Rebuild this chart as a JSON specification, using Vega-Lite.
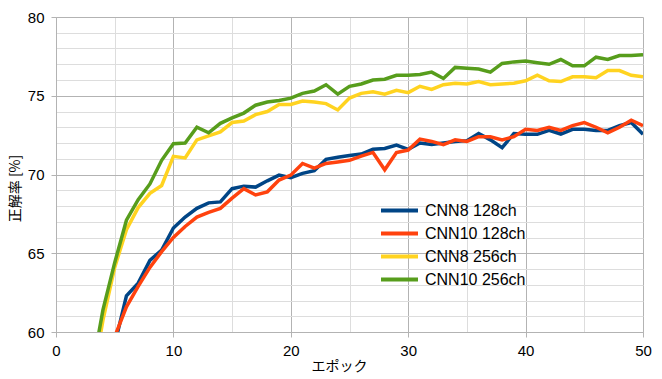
{
  "$schema": "https://vega.github.io/schema/vega-lite/v6.json",
  "width": 587,
  "height": 315,
  "autosize": "none",
  "padding": {"left": 56, "top": 17, "right": 19, "bottom": 47},
  "background": "white",
  "config": {"view": {"stroke": null}, "font": "Liberation Sans"},
  "data": {"values": [
    {"epoch": 3, "CNN8 128ch": null, "CNN10 128ch": null, "CNN8 256ch": 56.5, "CNN10 256ch": 57.3},
    {"epoch": 4, "CNN8 128ch": null, "CNN10 128ch": null, "CNN8 256ch": 60.75, "CNN10 256ch": 61.4},
    {"epoch": 5, "CNN8 128ch": 59.2, "CNN10 128ch": 59.7, "CNN8 256ch": 64.1, "CNN10 256ch": 64.4},
    {"epoch": 6, "CNN8 128ch": 62.3, "CNN10 128ch": 61.6, "CNN8 256ch": 66.5, "CNN10 256ch": 67.1},
    {"epoch": 7, "CNN8 128ch": 63.1, "CNN10 128ch": 62.9, "CNN8 256ch": 67.9, "CNN10 256ch": 68.4},
    {"epoch": 8, "CNN8 128ch": 64.55, "CNN10 128ch": 64.1, "CNN8 256ch": 68.8, "CNN10 256ch": 69.4},
    {"epoch": 9, "CNN8 128ch": 65.2, "CNN10 128ch": 65.1, "CNN8 256ch": 69.3, "CNN10 256ch": 70.9},
    {"epoch": 10, "CNN8 128ch": 66.6, "CNN10 128ch": 66.0, "CNN8 256ch": 71.15, "CNN10 256ch": 71.95},
    {"epoch": 11, "CNN8 128ch": 67.3, "CNN10 128ch": 66.7, "CNN8 256ch": 71.05, "CNN10 256ch": 72.0},
    {"epoch": 12, "CNN8 128ch": 67.85, "CNN10 128ch": 67.3, "CNN8 256ch": 72.2, "CNN10 256ch": 73.0},
    {"epoch": 13, "CNN8 128ch": 68.2, "CNN10 128ch": 67.6, "CNN8 256ch": 72.45, "CNN10 256ch": 72.65},
    {"epoch": 14, "CNN8 128ch": 68.26, "CNN10 128ch": 67.85, "CNN8 256ch": 72.7, "CNN10 256ch": 73.25},
    {"epoch": 15, "CNN8 128ch": 69.1, "CNN10 128ch": 68.5, "CNN8 256ch": 73.3, "CNN10 256ch": 73.6},
    {"epoch": 16, "CNN8 128ch": 69.26, "CNN10 128ch": 69.1, "CNN8 256ch": 73.4, "CNN10 256ch": 73.9},
    {"epoch": 17, "CNN8 128ch": 69.2, "CNN10 128ch": 68.7, "CNN8 256ch": 73.8, "CNN10 256ch": 74.4},
    {"epoch": 18, "CNN8 128ch": 69.6, "CNN10 128ch": 68.9, "CNN8 256ch": 74.0, "CNN10 256ch": 74.6},
    {"epoch": 19, "CNN8 128ch": 69.96, "CNN10 128ch": 69.65, "CNN8 256ch": 74.45, "CNN10 256ch": 74.7},
    {"epoch": 20, "CNN8 128ch": 69.8, "CNN10 128ch": 69.96, "CNN8 256ch": 74.45, "CNN10 256ch": 74.85},
    {"epoch": 21, "CNN8 128ch": 70.07, "CNN10 128ch": 70.7, "CNN8 256ch": 74.67, "CNN10 256ch": 75.15},
    {"epoch": 22, "CNN8 128ch": 70.24, "CNN10 128ch": 70.4, "CNN8 256ch": 74.6, "CNN10 256ch": 75.3},
    {"epoch": 23, "CNN8 128ch": 70.96, "CNN10 128ch": 70.7, "CNN8 256ch": 74.5, "CNN10 256ch": 75.7},
    {"epoch": 24, "CNN8 128ch": 71.1, "CNN10 128ch": 70.8, "CNN8 256ch": 74.1, "CNN10 256ch": 75.1},
    {"epoch": 25, "CNN8 128ch": 71.2, "CNN10 128ch": 70.9, "CNN8 256ch": 74.85, "CNN10 256ch": 75.6},
    {"epoch": 26, "CNN8 128ch": 71.3, "CNN10 128ch": 71.17, "CNN8 256ch": 75.15, "CNN10 256ch": 75.75},
    {"epoch": 27, "CNN8 128ch": 71.6, "CNN10 128ch": 71.4, "CNN8 256ch": 75.25, "CNN10 256ch": 76.0},
    {"epoch": 28, "CNN8 128ch": 71.65, "CNN10 128ch": 70.3, "CNN8 256ch": 75.1, "CNN10 256ch": 76.05},
    {"epoch": 29, "CNN8 128ch": 71.87, "CNN10 128ch": 71.4, "CNN8 256ch": 75.35, "CNN10 256ch": 76.3},
    {"epoch": 30, "CNN8 128ch": 71.6, "CNN10 128ch": 71.55, "CNN8 256ch": 75.2, "CNN10 256ch": 76.3},
    {"epoch": 31, "CNN8 128ch": 72.0, "CNN10 128ch": 72.25, "CNN8 256ch": 75.6, "CNN10 256ch": 76.35},
    {"epoch": 32, "CNN8 128ch": 71.9, "CNN10 128ch": 72.1, "CNN8 256ch": 75.4, "CNN10 256ch": 76.5},
    {"epoch": 33, "CNN8 128ch": 72.0, "CNN10 128ch": 71.9, "CNN8 256ch": 75.7, "CNN10 256ch": 76.1},
    {"epoch": 34, "CNN8 128ch": 72.1, "CNN10 128ch": 72.2, "CNN8 256ch": 75.8, "CNN10 256ch": 76.8},
    {"epoch": 35, "CNN8 128ch": 72.15, "CNN10 128ch": 72.1, "CNN8 256ch": 75.75, "CNN10 256ch": 76.75},
    {"epoch": 36, "CNN8 128ch": 72.6, "CNN10 128ch": 72.4, "CNN8 256ch": 75.9, "CNN10 256ch": 76.7},
    {"epoch": 37, "CNN8 128ch": 72.2, "CNN10 128ch": 72.4, "CNN8 256ch": 75.7, "CNN10 256ch": 76.5},
    {"epoch": 38, "CNN8 128ch": 71.7, "CNN10 128ch": 72.2, "CNN8 256ch": 75.75, "CNN10 256ch": 77.05},
    {"epoch": 39, "CNN8 128ch": 72.6, "CNN10 128ch": 72.4, "CNN8 256ch": 75.8, "CNN10 256ch": 77.15},
    {"epoch": 40, "CNN8 128ch": 72.55, "CNN10 128ch": 72.87, "CNN8 256ch": 75.95, "CNN10 256ch": 77.2},
    {"epoch": 41, "CNN8 128ch": 72.55, "CNN10 128ch": 72.8, "CNN8 256ch": 76.3, "CNN10 256ch": 77.1},
    {"epoch": 42, "CNN8 128ch": 72.8, "CNN10 128ch": 73.0, "CNN8 256ch": 75.95, "CNN10 256ch": 77.0},
    {"epoch": 43, "CNN8 128ch": 72.57, "CNN10 128ch": 72.8, "CNN8 256ch": 75.9, "CNN10 256ch": 77.3},
    {"epoch": 44, "CNN8 128ch": 72.87, "CNN10 128ch": 73.1, "CNN8 256ch": 76.2, "CNN10 256ch": 76.9},
    {"epoch": 45, "CNN8 128ch": 72.87, "CNN10 128ch": 73.3, "CNN8 256ch": 76.2, "CNN10 256ch": 76.9},
    {"epoch": 46, "CNN8 128ch": 72.8, "CNN10 128ch": 73.0, "CNN8 256ch": 76.15, "CNN10 256ch": 77.45},
    {"epoch": 47, "CNN8 128ch": 72.8, "CNN10 128ch": 72.65, "CNN8 256ch": 76.6, "CNN10 256ch": 77.3},
    {"epoch": 48, "CNN8 128ch": 73.1, "CNN10 128ch": 73.0, "CNN8 256ch": 76.6, "CNN10 256ch": 77.55},
    {"epoch": 49, "CNN8 128ch": 73.3, "CNN10 128ch": 73.45, "CNN8 256ch": 76.3, "CNN10 256ch": 77.55},
    {"epoch": 50, "CNN8 128ch": 72.55, "CNN10 128ch": 73.1, "CNN8 256ch": 76.2, "CNN10 256ch": 77.6}
  ]},
  "transform": [
    {"fold": ["CNN8 128ch", "CNN10 128ch", "CNN8 256ch", "CNN10 256ch"], "as": ["series", "acc"]}
  ],
  "mark": {"type": "line", "clip": true, "strokeWidth": 3.5},
  "encoding": {
    "x": {
      "field": "epoch", "type": "quantitative",
      "scale": {"domain": [0, 50], "nice": false, "zero": false},
      "axis": {
        "values": [0, 5, 10, 15, 20, 25, 30, 35, 40, 45, 50],
        "labelExpr": "datum.value % 10 === 0 ? datum.label : ''",
        "gridColor": {"condition": {"test": "datum.value % 10 === 0", "value": "#b3b3b3"}, "value": "#dddddd"},
        "tickColor": {"condition": {"test": "datum.value % 10 === 0", "value": "#b3b3b3"}, "value": "transparent"},
        "domainColor": "#b3b3b3",
        "tickSize": 5,
        "labelFontSize": 15,
        "labelColor": "black",
        "labelPadding": 6,
        "labelFlush": false,
        "title": "エポック",
        "titleFont": "Noto Sans CJK JP",
        "titleFontSize": 14,
        "titleFontWeight": "normal",
        "titleColor": "black",
        "titleX": 283,
        "titleY": 34,
        "titleAlign": "center",
        "titleBaseline": "middle"
      }
    },
    "y": {
      "field": "acc", "type": "quantitative",
      "scale": {"domain": [60, 80], "nice": false, "zero": false},
      "axis": {
        "values": [60, 61, 62, 63, 64, 65, 66, 67, 68, 69, 70, 71, 72, 73, 74, 75, 76, 77, 78, 79, 80],
        "labelExpr": "datum.value % 5 === 0 ? datum.label : ''",
        "gridColor": {"condition": {"test": "datum.value % 5 === 0", "value": "#b3b3b3"}, "value": "#dddddd"},
        "tickColor": {"condition": {"test": "datum.value % 5 === 0", "value": "#b3b3b3"}, "value": "transparent"},
        "domainColor": "#b3b3b3",
        "tickSize": 5,
        "labelFontSize": 15,
        "labelColor": "black",
        "labelPadding": 7,
        "labelFlush": false,
        "title": "正解率 [%]",
        "titleFont": "Noto Sans CJK JP",
        "titleFontSize": 14,
        "titleFontWeight": "normal",
        "titleColor": "black",
        "titleAngle": 270,
        "titleX": -41,
        "titleY": 171,
        "titleAlign": "center",
        "titleBaseline": "middle"
      }
    },
    "color": {
      "field": "series", "type": "nominal",
      "scale": {
        "domain": ["CNN8 128ch", "CNN10 128ch", "CNN8 256ch", "CNN10 256ch"],
        "range": ["#004586", "#ff420e", "#ffd320", "#579d1c"]
      },
      "legend": {
        "orient": "none",
        "legendX": 323,
        "legendY": 182,
        "title": null,
        "symbolType": "stroke",
        "symbolSize": 1369,
        "symbolStrokeWidth": 4,
        "labelFontSize": 16,
        "labelColor": "black",
        "labelOffset": 5,
        "clipHeight": 23,
        "rowPadding": 0
      }
    }
  }
}
